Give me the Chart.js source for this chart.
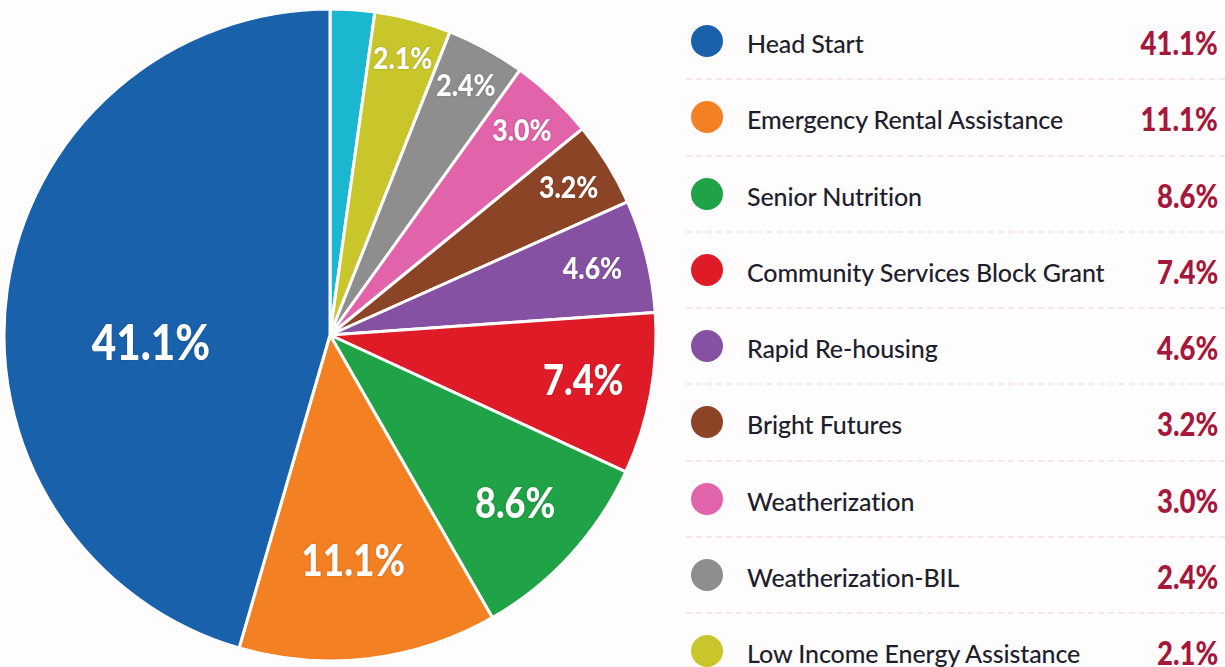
<!DOCTYPE html>
<html>
<head>
<meta charset="utf-8">
<script src="https://cdn.jsdelivr.net/npm/chart.js@4.4.1/dist/chart.umd.min.js"></script>
<style>
  html, body { margin: 0; padding: 0; width: 1225px; height: 667px; overflow: hidden; background: #fefcfc; }
  #pieWrap { position: absolute; left: 0; top: 0; width: 660px; height: 670px; }
  #legend { position: absolute; left: 686px; top: 4px; width: 539px; font-family: Lato, "Noto Sans", sans-serif; }
  .row { position: relative; height: 76.25px; border-bottom: 2px dashed #f6e6e8; box-sizing: border-box; }
  .dot { position: absolute; left: 5px; top: 21px; width: 32px; height: 32px; border-radius: 50%; }
  .name { position: absolute; left: 61px; top: 1px; line-height: 76px; font-size: 25px; font-weight: 500; color: #1e1f2e; letter-spacing: -0.1px; }
  .pct { position: absolute; right: 7px; top: 1px; line-height: 76px; font-size: 32px; font-weight: 900; color: #a6183b;
         transform: scaleX(0.86); transform-origin: right center; }
</style>
</head>
<body>
<div id="pieWrap"><canvas id="chartArea"></canvas></div>
<div id="legend"></div>
<script>
// slices listed clockwise from 12 o'clock
const programs = ['Other', 'Low Income Energy Assistance', 'Weatherization-BIL', 'Weatherization',
  'Bright Futures', 'Rapid Re-housing', 'Community Services Block Grant', 'Senior Nutrition',
  'Emergency Rental Assistance', 'Head Start'];
// share of the circle as drawn in the picture (%)
const sliceShare = [2.2, 3.8, 3.9, 4.2, 4.2, 5.6, 8.0, 9.8, 12.8, 45.5];
// percentages printed on the chart
const pctLabels = ['', '2.1%', '2.4%', '3.0%', '3.2%', '4.6%', '7.4%', '8.6%', '11.1%', '41.1%'];
const colors = ['#1bb6cf', '#c8c62a', '#8e8e8e', '#e163a9', '#8c4427', '#8651a3', '#e01b28', '#20a246', '#f38123', '#1a61ac'];

// label placement (fraction of radius, angle nudge in degrees) and font size per slice
const labelRadius = [0, 0.875, 0.87, 0.86, 0.86, 0.83, 0.79, 0.77, 0.70, 0.55];
const labelShift = [0, 0, 0, 0, 0, 0, 0, 0, 1, -11];
const labelSize = [0, 31, 31, 31, 31, 31, 42, 42, 43, 49];

// legend: largest first, the extra row runs off the bottom like the original
const legend = document.getElementById('legend');
for (let i = programs.length - 1; i >= 0; i--) {
  const row = document.createElement('div');
  row.className = 'row';
  row.innerHTML = '<div class="dot" style="background:' + colors[i] + '"></div>' +
    '<div class="name">' + programs[i] + '</div>' +
    '<div class="pct">' + pctLabels[i] + '</div>';
  legend.appendChild(row);
}

const sliceLabels = {
  id: 'sliceLabels',
  afterDatasetsDraw(chart) {
    const ctx = chart.ctx;
    const arcs = chart.getDatasetMeta(0).data;
    arcs.forEach((arc, i) => {
      if (!pctLabels[i]) return;
      const p = arc.getProps(['x', 'y', 'startAngle', 'endAngle', 'outerRadius'], true);
      const mid = (p.startAngle + p.endAngle) / 2 + labelShift[i] * Math.PI / 180;
      const r = p.outerRadius * labelRadius[i];
      ctx.save();
      ctx.translate(p.x + Math.cos(mid) * r, p.y + Math.sin(mid) * r);
      ctx.scale(0.86, 1);
      ctx.font = '900 ' + labelSize[i] + 'px Lato, "Noto Sans", sans-serif';
      ctx.fillStyle = '#ffffff';
      ctx.textAlign = 'center';
      ctx.textBaseline = 'middle';
      ctx.shadowColor = 'rgba(0,0,0,0.25)';
      ctx.shadowBlur = 2;
      ctx.fillText(pctLabels[i], 0, 0);
      ctx.restore();
    });
  }
};

const chart = new Chart(document.getElementById('chartArea'), {
  type: 'pie',
  data: {
    labels: programs,
    datasets: [{
      data: sliceShare,
      backgroundColor: colors,
      borderColor: '#ffffff',
      borderWidth: 3,
    }]
  },
  options: {
    responsive: true,
    maintainAspectRatio: false,
    animation: false,
    radius: 326,
    layout: { padding: 0 },
    plugins: {
      legend: { display: false },
      tooltip: { enabled: false },
    }
  },
  plugins: [sliceLabels]
});
</script>
</body>
</html>
